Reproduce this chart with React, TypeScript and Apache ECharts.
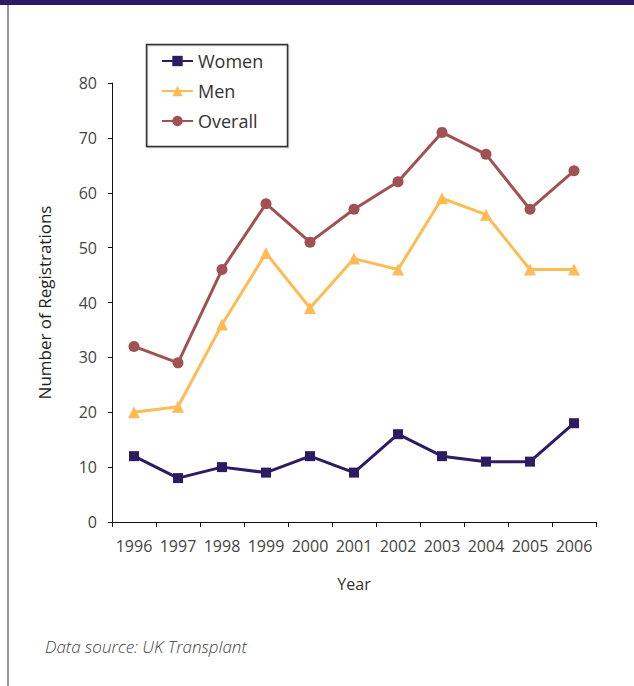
import React, { useEffect, useRef } from "react";
import * as echarts from "echarts";

const years = ["1996", "1997", "1998", "1999", "2000", "2001", "2002", "2003", "2004", "2005", "2006"];
const women = [12, 8, 10, 9, 12, 9, 16, 12, 11, 11, 18];
const men = [20, 21, 36, 49, 39, 48, 46, 59, 56, 46, 46];
const overall = [32, 29, 46, 58, 51, 57, 62, 71, 67, 57, 64];

const FONT = "'Open Sans', 'Noto Sans', sans-serif";

export default function App() {
  const ref = useRef<HTMLDivElement>(null);
  useEffect(() => {
    if (!ref.current) return;
    const chart = echarts.init(ref.current, null, { renderer: "svg" });
    chart.setOption({
      animation: false,
      backgroundColor: "#ffffff",
      textStyle: { fontFamily: FONT },
      grid: { left: 112, right: 38, top: 83, bottom: 164, containLabel: false },
      legend: {
        orient: "vertical",
        left: 161,
        top: 51,
        padding: 0,
        itemWidth: 31,
        itemHeight: 13,
        itemGap: 10,
        textStyle: { fontSize: 18, color: "#333", fontFamily: FONT, lineHeight: 20 },
        data: ["Women", "Men", "Overall"],
      },
      xAxis: {
        type: "category",
        data: years,
        boundaryGap: true,
        name: "Year",
        nameLocation: "middle",
        nameGap: 54,
        nameTextStyle: { fontSize: 16, color: "#333", fontFamily: FONT },
        axisLine: { lineStyle: { color: "#111", width: 1 } },
        axisTick: { show: true, length: 5, lineStyle: { color: "#111" } },
        axisLabel: { fontSize: 16, color: "#444", margin: 16, fontFamily: FONT, interval: 0 },
        splitLine: { show: false },
      },
      yAxis: {
        type: "value",
        min: 0,
        max: 80,
        interval: 10,
        name: "Number of Registrations",
        nameLocation: "middle",
        nameGap: 59,
        nameTextStyle: { fontSize: 17, color: "#222", fontFamily: FONT },
        axisLine: { show: true, lineStyle: { color: "#111", width: 1 } },
        axisTick: { show: true, length: 4, lineStyle: { color: "#111" } },
        axisLabel: { fontSize: 16, color: "#444", margin: 15, fontFamily: FONT },
        splitLine: { show: false },
      },
      series: [
        {
          name: "Women",
          type: "line",
          data: women,
          symbol: "rect",
          symbolSize: 10,
          itemStyle: { color: "#2D1B64" },
          lineStyle: { color: "#2D1B64", width: 3 },
        },
        {
          name: "Men",
          type: "line",
          data: men,
          symbol: "triangle",
          symbolSize: 12,
          itemStyle: { color: "#FFBB55" },
          lineStyle: { color: "#FFBB55", width: 3 },
        },
        {
          name: "Overall",
          type: "line",
          data: overall,
          symbol: "circle",
          symbolSize: 11,
          itemStyle: { color: "#A05252" },
          lineStyle: { color: "#A05252", width: 3 },
        },
      ],
      graphic: [
        { type: "rect", left: 0, top: 0, shape: { width: 634, height: 5 }, style: { fill: "#2E1A66" } },
        { type: "rect", left: 7, top: 5, shape: { width: 2, height: 681 }, style: { fill: "#9a9a9a" } },
        {
          type: "rect",
          left: 144,
          top: 42,
          shape: { width: 141, height: 102 },
          style: { fill: "none", stroke: "#333", lineWidth: 1.5, shadowColor: "rgba(0,0,0,0.25)", shadowOffsetX: 1, shadowOffsetY: 1, shadowBlur: 1 },
        },
        {
          type: "text",
          left: 45,
          top: 638,
          style: { text: "Data source: UK Transplant", font: `italic 300 17px ${FONT}`, fill: "#444" },
        },
      ],
    });
    return () => chart.dispose();
  }, []);
  return <div ref={ref} style={{ position: "fixed", left: 0, top: 0, width: 634, height: 686 }} />;
}
